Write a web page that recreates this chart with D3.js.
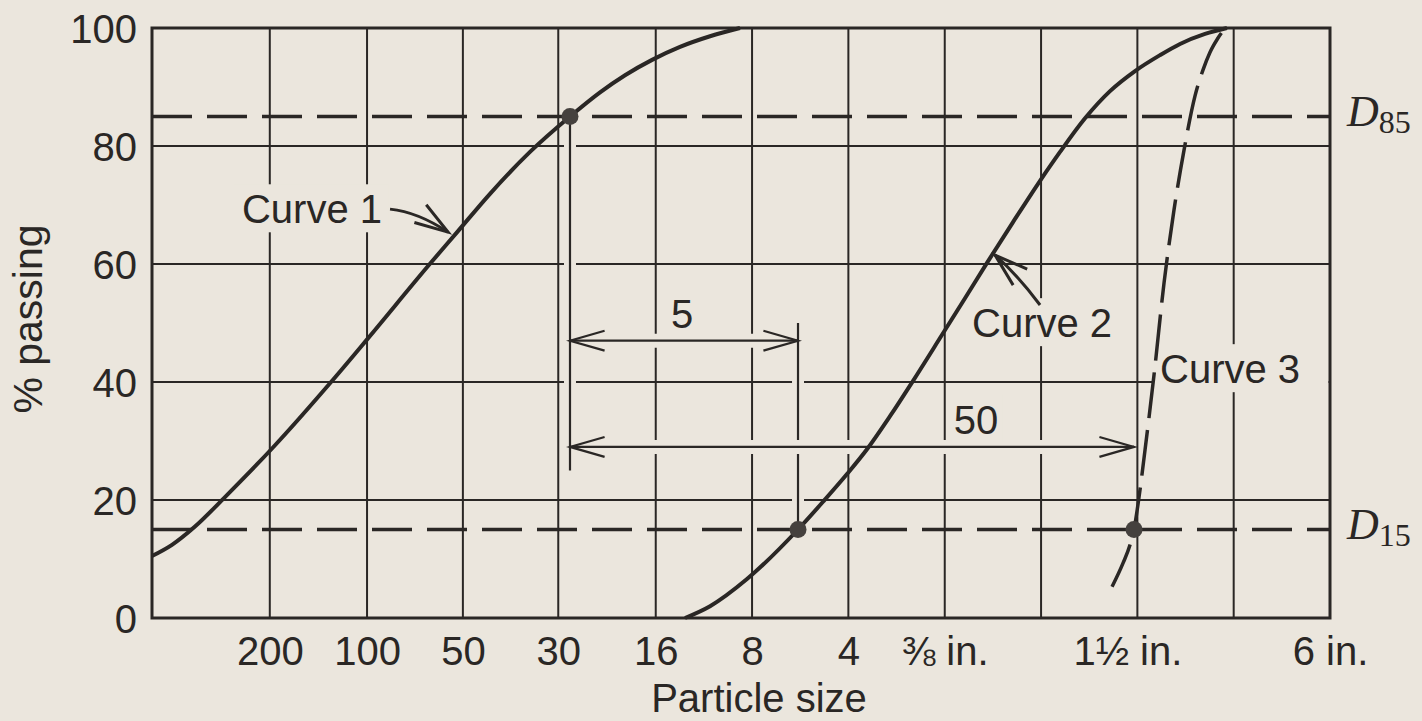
<!DOCTYPE html>
<html>
<head>
<meta charset="utf-8">
<script src="https://cdn.jsdelivr.net/npm/d3@7"></script>
<style>
  html, body { margin: 0; padding: 0; background: #ebe6dd; }
  svg { display: block; }
</style>
</head>
<body>
<svg width="1422" height="721"></svg>
<script>
// ---- Data (particle size in mm, percent passing) ----

var sieveSizes  = [0.074, 0.149, 0.297, 0.59, 1.19, 2.38, 4.76, 9.525, 19.05, 38.1, 76.2, 152.4];
var sieveLabels = ['200', '100', '50', '30', '16', '8', '4', '⅜ in.', '', '1½ in.', '', '6 in.'];
var percentTicks = [0, 20, 40, 60, 80, 100];

var curve1Size = [0.0317, 0.0366, 0.0432, 0.0536, 0.0757, 0.115, 0.150, 0.234, 0.285, 0.361, 0.4815, 0.642, 0.797, 0.954, 1.159, 1.417, 1.759, 2.182];
var curve1Pass = [10.5, 12.4, 15.5, 20.5, 28.9, 40.0, 47.4, 60.0, 65.4, 71.9, 79.0, 85, 89.1, 92.0, 94.6, 96.8, 98.6, 100];

var curve2Size = [1.469, 1.759, 2.295, 3.313, 3.966, 4.714, 5.443, 6.423, 7.582, 9.342, 11.02, 12.91, 15.57, 18.91, 21.84, 26.14, 31.29, 37.46, 44.84, 51.79, 62.0, 72.6];
var curve2Pass = [0, 2.0, 6.6, 15, 19.7, 24.4, 28.6, 34.2, 40.2, 48.0, 54.2, 60.2, 67.1, 74.1, 79.0, 84.7, 89.3, 92.7, 95.4, 97.3, 99.0, 100];

var curve3Size = [31.75, 34.36, 36.14, 37.19, 38.26, 40.26, 42.95, 46.16, 49.60, 53.30, 57.69, 61.11, 64.27, 68.07, 71.59];
var curve3Pass = [5.3, 9.3, 12.4, 15, 19.2, 28.5, 41.2, 56.8, 69.2, 79.3, 88.5, 92.9, 95.9, 98.3, 100];

var criteriaPass  = [85, 15];            // D85 and D15 lines
var criteriaNames = ['85', '15'];

var dotSize = [0.642, 3.313, 37.19];     // D85 of curve 1, D15 of curves 2 and 3
var dotPass = [85, 15, 15];

var dropSize = [0.642, 3.313];           // vertical lines from the dots
var dropFrom = [85, 15];
var dropTo   = [25, 50];

var ratioLabels = ['5', '50'];           // ratio arrows
var ratioFrom   = [0.642, 0.642];
var ratioTo     = [3.313, 37.19];
var ratioPass   = [47, 29];
var ratioTextAt = [1.438, 11.93];

var curveNames  = ['Curve 1', 'Curve 2', 'Curve 3'];
var nameSize    = [0.166, 11.59, 44.84];
var namePass    = [66.9, 47.6, 39.8];
var nameAnchor  = ['end', 'start', 'start'];

var leader1 = [[0.1758, 69.3], [0.215, 68.8], [0.2669, 65.4]];   // start, control, tip
var leader2 = [[18.91, 53.05], [16.14, 58.1], [13.68, 61.5]];

// ---- Setup ----

var ink = '#2a2725';
var paper = '#ebe6dd';
var sans = '"Liberation Sans", Arial, sans-serif';
var serif = '"Liberation Serif", "Times New Roman", serif';

var svg = d3.select('svg');
var W = 1422, H = 721;
var margin = {top: 28, right: 92, bottom: 103, left: 152};
var width = W - margin.left - margin.right;
var height = H - margin.top - margin.bottom;

svg.append('rect').attr('width', W).attr('height', H).attr('fill', paper);

var x = d3.scaleLog().domain([0.0317, 152.4]).range([0, width]);
var y = d3.scaleLinear().domain([0, 100]).range([height, 0]);

var g = svg.append('g').attr('transform', 'translate(' + margin.left + ',' + margin.top + ')');
var gGrid = g.append('g');
var gAnno = g.append('g');
var gLabels = g.append('g');
var gCurves = g.append('g');
var gTop = g.append('g');

// Grid lines
gGrid.selectAll('line.v').data(sieveSizes).join('line')
  .attr('class', 'v')
  .attr('x1', function (d) { return x(d); }).attr('x2', function (d) { return x(d); })
  .attr('y1', 0).attr('y2', height)
  .attr('stroke', ink).attr('stroke-width', 2);

gGrid.selectAll('line.h').data(percentTicks).join('line')
  .attr('class', 'h')
  .attr('x1', 0).attr('x2', width)
  .attr('y1', function (d) { return y(d); }).attr('y2', function (d) { return y(d); })
  .attr('stroke', ink).attr('stroke-width', 2);

// Axes (labels only)
var xAxis = d3.axisBottom(x).tickValues(sieveSizes)
  .tickFormat(function (d, i) { return sieveLabels[i]; })
  .tickSize(0).tickPadding(19);
var yAxis = d3.axisLeft(y).tickValues(percentTicks).tickSize(0).tickPadding(15);

g.append('g').attr('transform', 'translate(0,' + height + ')').call(xAxis)
  .attr('font-family', sans).attr('font-size', 40).style('color', ink)
  .call(function (s) { s.select('.domain').remove(); })
  .selectAll('text')
  .attr('dx', function (d, i) { return sieveLabels[i] === '1½ in.' ? -10 : 0; });

g.append('g').call(yAxis)
  .attr('font-family', sans).attr('font-size', 40).style('color', ink)
  .call(function (s) { s.select('.domain').remove(); })
  .selectAll('text').attr('dy', '0.37em');

// Helper: open arrowhead; back = direction from tip toward the tail
function arrowHead(tx, ty, back, len, spread) {
  return 'M' + (tx + len * Math.cos(back + spread)) + ',' + (ty + len * Math.sin(back + spread)) +
         'L' + tx + ',' + ty +
         'L' + (tx + len * Math.cos(back - spread)) + ',' + (ty + len * Math.sin(back - spread));
}

// Text with a paper-coloured box behind it (breaks the grid like the print)
function addLabel(txt, px, py, anchor, padL, padR, toEdge) {
  var t = gLabels.append('text')
    .attr('x', px).attr('y', py)
    .attr('text-anchor', anchor)
    .attr('font-family', sans).attr('font-size', 40)
    .attr('fill', ink)
    .text(txt);
  var b = t.node().getBBox();
  var right = toEdge ? width - 1.5 : b.x + b.width + padR;
  gLabels.insert('rect', function () { return t.node(); })
    .attr('x', b.x - padL).attr('y', b.y - 3)
    .attr('width', right - (b.x - padL)).attr('height', b.height + 4)
    .attr('fill', paper);
  return t;
}

// Vertical drop lines, with a halo that breaks the grid
dropSize.forEach(function (s, i) {
  gAnno.append('line')
    .attr('x1', x(s)).attr('x2', x(s)).attr('y1', y(dropFrom[i])).attr('y2', y(dropTo[i]))
    .attr('stroke', paper).attr('stroke-width', 12);
  gAnno.append('line')
    .attr('x1', x(s)).attr('x2', x(s)).attr('y1', y(dropFrom[i])).attr('y2', y(dropTo[i]))
    .attr('stroke', ink).attr('stroke-width', 2.2);
});

// Ratio arrows
ratioLabels.forEach(function (lab, i) {
  var x1 = x(ratioFrom[i]), x2 = x(ratioTo[i]), yy = y(ratioPass[i]);
  gAnno.append('line')
    .attr('x1', x1 + 4).attr('x2', x2 - 4).attr('y1', yy).attr('y2', yy)
    .attr('stroke', paper).attr('stroke-width', 14);
  gAnno.append('line')
    .attr('x1', x1).attr('x2', x2).attr('y1', yy).attr('y2', yy)
    .attr('stroke', ink).attr('stroke-width', 2.2);
  gAnno.append('path').attr('d', arrowHead(x1, yy, 0, 36, 0.28))
    .attr('fill', 'none').attr('stroke', ink).attr('stroke-width', 2.2);
  gAnno.append('path').attr('d', arrowHead(x2, yy, Math.PI, 36, 0.28))
    .attr('fill', 'none').attr('stroke', ink).attr('stroke-width', 2.2);
  addLabel(lab, x(ratioTextAt[i]), yy - 13, 'middle', 4, 4, false);
});

curveNames.forEach(function (n, i) {
  addLabel(n, x(nameSize[i]), y(namePass[i]), nameAnchor[i], 8, 6, i === 2);
});

// D85 / D15 dashed lines
gCurves.selectAll('line.crit').data(criteriaPass).join('line')
  .attr('class', 'crit')
  .attr('x1', 0).attr('x2', width)
  .attr('y1', function (d) { return y(d); }).attr('y2', function (d) { return y(d); })
  .attr('stroke', ink).attr('stroke-width', 3.5)
  .attr('stroke-dasharray', '40,15');

// Grading curves
var lineFunction = d3.line()
  .x(function (d) { return x(d[0]); })
  .y(function (d) { return y(d[1]); })
  .curve(d3.curveMonotoneX);

function pairs(sizes, pass) {
  return sizes.map(function (s, i) { return [s, pass[i]]; });
}

gCurves.append('path').datum(pairs(curve1Size, curve1Pass))
  .attr('d', lineFunction).attr('fill', 'none').attr('stroke', ink).attr('stroke-width', 4);
gCurves.append('path').datum(pairs(curve2Size, curve2Pass))
  .attr('d', lineFunction).attr('fill', 'none').attr('stroke', ink).attr('stroke-width', 4);
gCurves.append('path').datum(pairs(curve3Size, curve3Pass))
  .attr('d', lineFunction).attr('fill', 'none').attr('stroke', ink).attr('stroke-width', 3.5)
  .attr('stroke-dasharray', '46,12');

// Leader arrows from the curve names
[leader1, leader2].forEach(function (ld) {
  var p = ld.map(function (d) { return [x(d[0]), y(d[1])]; });
  gTop.append('path')
    .attr('d', 'M' + p[0] + 'Q' + p[1] + ' ' + p[2])
    .attr('fill', 'none').attr('stroke', ink).attr('stroke-width', 3);
  var back = Math.atan2(p[1][1] - p[2][1], p[1][0] - p[2][0]);
  gTop.append('path').attr('d', arrowHead(p[2][0], p[2][1], back, 35, 0.31))
    .attr('fill', 'none').attr('stroke', ink).attr('stroke-width', 3);
});

// Dots
gTop.selectAll('circle').data(dotSize).join('circle')
  .attr('cx', function (d) { return x(d); })
  .attr('cy', function (d, i) { return y(dotPass[i]); })
  .attr('r', 8.5)
  .attr('fill', '#45413e');

// Frame
gTop.append('rect')
  .attr('width', width).attr('height', height)
  .attr('fill', 'none').attr('stroke', ink).attr('stroke-width', 3);

// D labels on the right
criteriaPass.forEach(function (p, i) {
  var t = svg.append('text')
    .attr('x', margin.left + width + 17)
    .attr('y', margin.top + y(p) + 9)
    .attr('font-family', serif).attr('fill', ink);
  t.append('tspan').attr('font-style', 'italic').attr('font-size', 44).text('D');
  t.append('tspan').attr('font-size', 32).attr('dy', 7).text(criteriaNames[i]);
});

// Axis titles
svg.append('text')
  .attr('x', 759).attr('y', 712)
  .attr('text-anchor', 'middle')
  .attr('font-family', sans).attr('font-size', 40).attr('fill', ink)
  .text('Particle size');

svg.append('text')
  .attr('transform', 'translate(42,319) rotate(-90)')
  .attr('text-anchor', 'middle')
  .attr('font-family', sans).attr('font-size', 41).attr('fill', ink)
  .text('% passing');
</script>
</body>
</html>
